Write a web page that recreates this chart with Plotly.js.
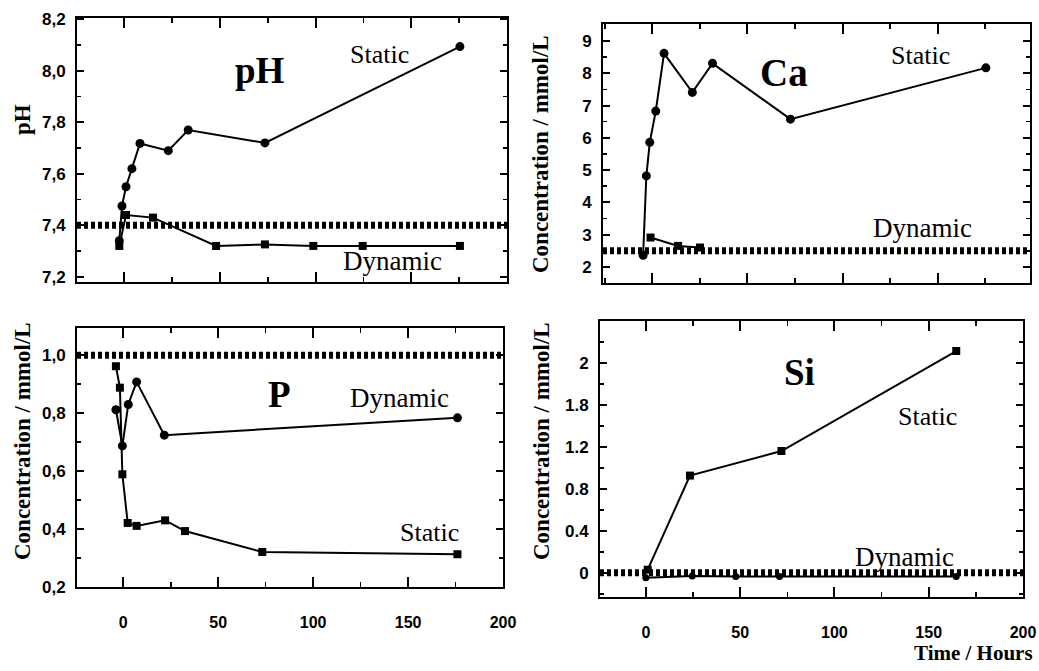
<!DOCTYPE html>
<html>
<head>
<meta charset="utf-8">
<script src="https://cdn.plot.ly/plotly-3.0.1.min.js"></script>
<style>html,body{margin:0;padding:0;background:#fff;}#chart{width:1039px;height:671px;}</style>
</head>
<body>
<div id="chart"></div>
<script>
// ---- Data ----
// pH panel
const timePhStatic = [-2.6, -1.2, 0.9, 4, 8.2, 23, 33.4, 73.5, 175.4];
const phStatic     = [7.34, 7.475, 7.55, 7.62, 7.718, 7.69, 7.77, 7.72, 8.094];
const timePhDynamic = [-2.6, 0.9, 15, 48, 73.5, 98.8, 124.6, 175.4];
const phDynamic     = [7.32, 7.44, 7.43, 7.32, 7.326, 7.32, 7.32, 7.32];
// Ca panel
const timeCaStatic = [-4.9, -3.2, -1.4, 1.75, 6.1, 21, 31.6, 72.6, 175.4];
const caStatic     = [2.36, 4.82, 5.86, 6.83, 8.62, 7.41, 8.31, 6.58, 8.17];
const timeCaDynamic = [-1, 13.5, 25];
const caDynamic     = [2.91, 2.65, 2.6];
// P panel
const timePDynamic = [-3.9, -0.5, 2.6, 7, 21.6, 176];
const pDynamic     = [0.812, 0.687, 0.83, 0.908, 0.724, 0.784];
const timePStatic  = [-3.9, -1.8, -0.5, 2.3, 7, 22, 32.5, 73.2, 176];
const pStatic      = [0.962, 0.888, 0.589, 0.421, 0.411, 0.43, 0.393, 0.321, 0.313];
// Si panel
const timeSiStatic  = [1, 23.4, 71.9, 164.6];
const siStatic      = [0.03, 0.927, 1.161, 2.114];
const timeSiDynamic = [0, 24.6, 47.7, 70.9, 164.6];
const siDynamic     = [-0.047, -0.03, -0.035, -0.035, -0.035];
// SBF reference levels (hatched bands): pH, Ca, P, Si
const referenceLevels = [7.4, 2.5, 1.0, 0];
// Tick labels
const phTickVals = [7.2, 7.4, 7.6, 7.8, 8.0, 8.2];
const phTickText = ["7,2", "7,4", "7,6", "7,8", "8,0", "8,2"];
const caTickVals = [2, 3, 4, 5, 6, 7, 8, 9];
const caTickText = ["2", "3", "4", "5", "6", "7", "8", "9"];
const pTickVals = [0.2, 0.4, 0.6, 0.8, 1.0];
const pTickText = ["0,2", "0,4", "0,6", "0,8", "1,0"];
const siTickVals = [0, 0.4, 0.8, 1.2, 1.6, 2.0];
const siTickText = ["0", "0.4", "0.8", "1.2", "1.8", "2"];
const timeTickVals = [0, 50, 100, 150, 200];
const timeTickText = ["0", "50", "100", "150", "200"];

// ---- Styling ----
const W = 1039, H = 671;
const serif = "Liberation Serif, Times New Roman, serif";
const sans = "Liberation Sans, Arial, sans-serif";
const lineStyle = {color: "#000", width: 2};

function mk(x, y, sym, size, xa, ya) {
  return {x: x, y: y, xaxis: xa, yaxis: ya, type: "scatter", mode: "lines+markers",
    line: lineStyle, marker: {symbol: sym, size: size, color: "#000"},
    showlegend: false, hoverinfo: "x+y"};
}

const traces = [
  mk(timePhStatic, phStatic, "circle", 9, "x", "y"),
  mk(timePhDynamic, phDynamic, "square", 8, "x", "y"),
  mk(timeCaStatic, caStatic, "circle", 9, "x2", "y2"),
  mk(timeCaDynamic, caDynamic, "square", 8, "x2", "y2"),
  mk(timePDynamic, pDynamic, "circle", 9, "x3", "y3"),
  mk(timePStatic, pStatic, "square", 8, "x3", "y3"),
  mk(timeSiStatic, siStatic, "square", 8, "x4", "y4"),
  mk(timeSiDynamic, siDynamic, "circle", 7, "x4", "y4")
];

function px2fx(p) { return p / W; }
function px2fy(p) { return 1 - p / H; }

function xAxis(left, right, range, anchor, showLabels) {
  return {
    domain: [px2fx(left), px2fx(right)], range: range, anchor: anchor,
    showline: true, linecolor: "#000", linewidth: 2, mirror: "ticks",
    ticks: "inside", ticklen: 10, tickwidth: 2, tickcolor: "#000",
    tickmode: "array", tickvals: timeTickVals, ticktext: timeTickText,
    showticklabels: showLabels, ticklabelstandoff: 20, ticklabeloverflow: "allow",
    tickfont: {family: sans, size: 16, color: "#000", weight: "bold"},
    minor: {tickmode: "linear", tick0: 25, dtick: 50, ticks: "inside", ticklen: 5, tickwidth: 1.5, tickcolor: "#000", showgrid: false},
    showgrid: false, zeroline: false, fixedrange: true
  };
}
function yAxis(top, bottom, range, anchor, vals, text, minorStart, minorStep) {
  return {
    domain: [px2fy(bottom), px2fy(top)], range: range, anchor: anchor,
    showline: true, linecolor: "#000", linewidth: 2, mirror: "ticks",
    ticks: "inside", ticklen: 7, tickwidth: 2, tickcolor: "#000",
    tickmode: "array", tickvals: vals, ticktext: text, ticklabelstandoff: 6,
    tickfont: {family: sans, size: 17, color: "#000", weight: "bold"},
    minor: {tickmode: "linear", tick0: minorStart, dtick: minorStep, ticks: "inside", ticklen: 4, tickwidth: 1.5, tickcolor: "#000", showgrid: false},
    showgrid: false, zeroline: false, fixedrange: true
  };
}

const bandLine = {color: "#000", width: 7, dash: "4px,3px"};
const refAxes = [["x", "y"], ["x2", "y2"], ["x3", "y3"], ["x4", "y4"]];
const shapes = referenceLevels.map((v, i) => ({
  type: "line", layer: "above", xref: refAxes[i][0] + " domain", yref: refAxes[i][1],
  x0: 0, x1: 1, y0: v, y1: v, line: bandLine
}));

function ann(text, x, y, size, bold, angle, anchor) {
  return {text: text, xref: "paper", yref: "paper", x: px2fx(x), y: px2fy(y),
    xanchor: anchor || "center", yanchor: "middle", showarrow: false, textangle: angle || 0,
    font: {family: serif, size: size, color: "#000", weight: bold ? "bold" : "normal"}};
}

const annotations = [
  ann("pH", 260, 70, 37, true),
  ann("Static", 379, 55, 26, false),
  ann("Dynamic", 392, 261, 27, false),
  ann("Ca", 784, 72, 39, true),
  ann("Static", 920, 56, 26, false),
  ann("Dynamic", 922, 228, 27, false),
  ann("P", 279, 394, 37, true),
  ann("Dynamic", 399, 398, 27, false),
  ann("Static", 429, 532, 26, false),
  ann("Si", 799, 372, 37, true),
  ann("Static", 927, 416, 26, false),
  ann("Dynamic", 904, 557, 27, false),
  ann("pH", 22, 120, 23, true, -90),
  ann("Concentration / mmol/L", 540, 154, 23, true, -90),
  ann("Concentration / mmol/L", 22, 441, 23, true, -90),
  ann("Concentration / mmol/L", 541, 441, 23, true, -90),
  ann("Time / Hours", 1035, 653, 21, true, 0, "right")
];

const layout = {
  width: W, height: H, margin: {l: 0, r: 0, t: 0, b: 0},
  paper_bgcolor: "#fff", plot_bgcolor: "#fff", showlegend: false,
  xaxis:  xAxis(77, 507, [-24.7, 200], "y", false),
  yaxis:  yAxis(18, 282, [7.18, 8.205], "x", phTickVals, phTickText, 7.3, 0.2),
  xaxis2: xAxis(603, 1030, [-26, 198.6], "y2", false),
  yaxis2: yAxis(24, 283, [1.5, 9.53], "x2", caTickVals, caTickText, 2.5, 1),
  xaxis3: xAxis(77, 503, [-24.4, 200], "y3", true),
  yaxis3: yAxis(328, 587, [0.2, 1.094], "x3", pTickVals, pTickText, 0.3, 0.2),
  xaxis4: xAxis(600, 1023, [-24.3, 200], "y4", true),
  yaxis4: yAxis(321, 597, [-0.23, 2.4], "x4", siTickVals, siTickText, 0.2, 0.4),
  shapes: shapes,
  annotations: annotations
};

Plotly.newPlot("chart", traces, layout, {staticPlot: true, displayModeBar: false});
</script>
</body>
</html>
